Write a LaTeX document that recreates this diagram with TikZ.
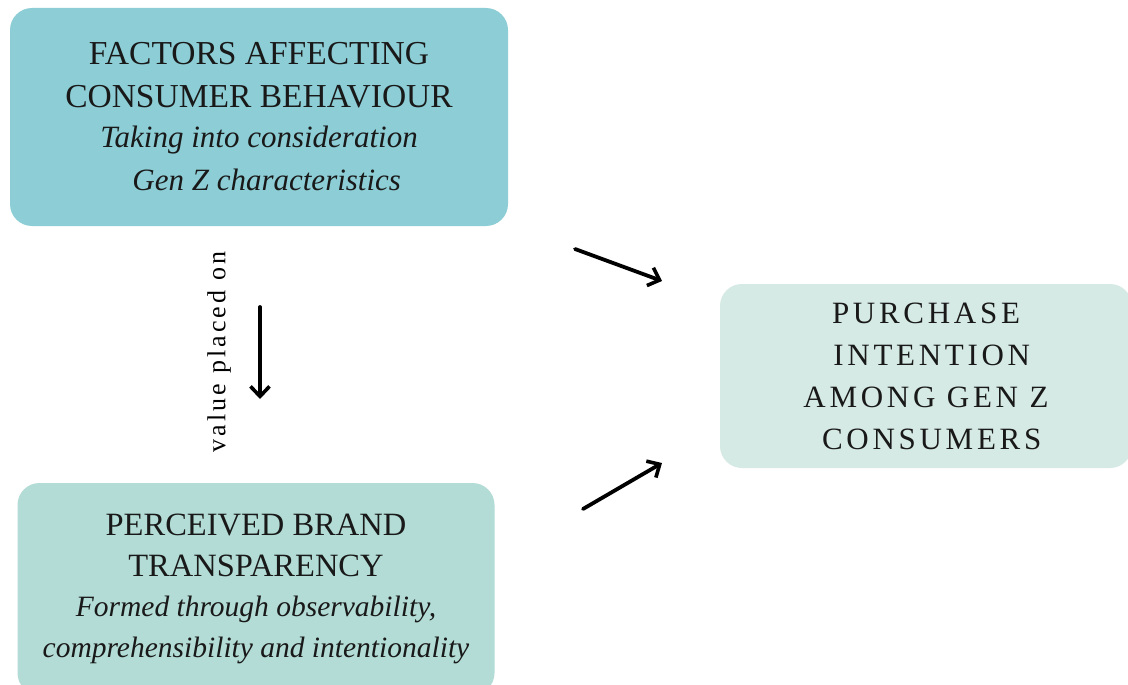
\documentclass[tikz,border=0pt]{standalone}
\usepackage{fontspec}
\setmainfont{Liberation Serif}
\usetikzlibrary{arrows.meta}
\definecolor{topc}{HTML}{8DCED6}
\definecolor{botc}{HTML}{B2DCD5}
\definecolor{rightc}{HTML}{D5EAE4}
\tikzset{
  box/.style={rounded corners=22pt, inner sep=0pt, align=center, text=black!90},
  arr/.style={line width=3.8pt, line cap=round, -{Straight Barb[length=10pt,width=19pt,line width=3.6pt]}},
}
\newcommand{\capsA}{\fontsize{33.5}{43}\selectfont}
\newcommand{\itA}{\fontsize{31}{43}\selectfont\itshape}
\newcommand{\capsB}{\fontsize{32.5}{40.5}\selectfont}
\newcommand{\itB}{\fontsize{29.5}{40.5}\selectfont\itshape}
\begin{document}
\begin{tikzpicture}[x=1pt,y=-1pt]
\useasboundingbox (0,0) rectangle (1128,685);
\fill[white] (0,0) rectangle (1128,685);
\node[box, fill=topc, minimum width=498pt, minimum height=218pt, font=\capsA] (fac) at (259,117)
  {FACTORS AFFECTING\\CONSUMER BEHAVIOUR\\[-3pt]{\itA Taking into consideration}\\{\itA\ \ Gen Z characteristics}};
\node[box, fill=botc, minimum width=477pt, minimum height=212pt, font=\capsB] (pbt) at (256,589)
  {PERCEIVED BRAND\\TRANSPARENCY\\{\itB Formed through observability,}\\{\itB comprehensibility and intentionality}};
\node[box, fill=rightc, minimum width=412pt, minimum height=184pt,
  font=\fontsize{31}{42}\selectfont\addfontfeature{LetterSpace=12}] (pur) at (926,376)
  {PURCHASE\\\ INTENTION\\AMONG GEN Z\\\ CONSUMERS};
\node[rotate=90, font=\fontsize{26}{28}\selectfont\addfontfeature{LetterSpace=12}] (lab) at (219,352) {value placed on};
\coordinate (v1) at (260,307);
\coordinate (v2) at (260,399);
\coordinate (a1) at (575,249);
\coordinate (a2) at (662,281);
\coordinate (b1) at (583,509);
\coordinate (b2) at (662,463);
\draw[arr] (v1) -- (v2);
\draw[arr] (a1) -- (a2);
\draw[arr] (b1) -- (b2);
\end{tikzpicture}
\end{document}
